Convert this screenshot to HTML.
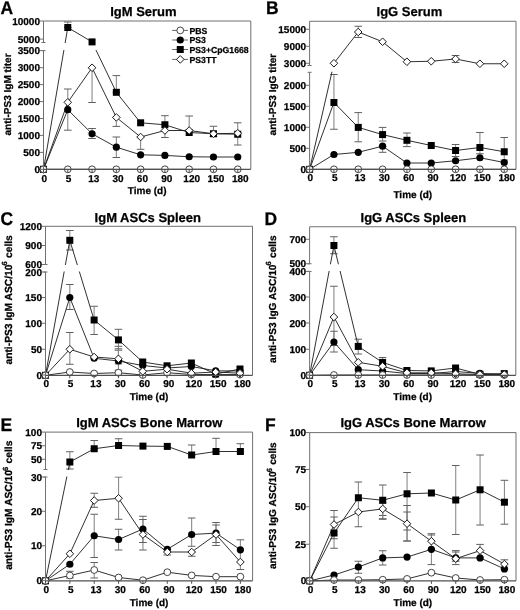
<!DOCTYPE html><html><head><meta charset="utf-8"><style>html,body{margin:0;padding:0;background:#fff;}svg{display:block;filter:blur(0.35px);}text{font-family:"Liberation Sans",sans-serif;font-weight:bold;fill:#000;text-rendering:geometricPrecision;stroke:#000;stroke-width:0.25px;}</style></head><body>
<svg width="520" height="610" viewBox="0 0 520 610">
<rect width="520" height="610" fill="#fff"/>
<defs><clipPath id="c0"><rect x="0" y="0" width="520" height="43"/><rect x="0" y="50.1" width="520" height="559.9"/></clipPath></defs>
<g clip-path="url(#c0)">
<path d="M67.78 89V130.2" stroke="#858585" stroke-width="1.05" fill="none"/>
<path d="M63.98 89H71.58M63.98 130.2H71.58" stroke="#606060" stroke-width="1" fill="none"/>
<path d="M67.78 22V27.5" stroke="#858585" stroke-width="1.05" fill="none"/>
<path d="M63.98 22H71.58M63.98 27.5H71.58" stroke="#606060" stroke-width="1" fill="none"/>
<path d="M92.06 67.75V102.5" stroke="#858585" stroke-width="1.05" fill="none"/>
<path d="M88.26 67.75H95.86M88.26 102.5H95.86" stroke="#606060" stroke-width="1" fill="none"/>
<path d="M92.06 128.5V138.5" stroke="#858585" stroke-width="1.05" fill="none"/>
<path d="M88.26 128.5H95.86M88.26 138.5H95.86" stroke="#606060" stroke-width="1" fill="none"/>
<path d="M116.34 75.6V92.3" stroke="#858585" stroke-width="1.05" fill="none"/>
<path d="M112.54 75.6H120.14M112.54 92.3H120.14" stroke="#606060" stroke-width="1" fill="none"/>
<path d="M116.34 117.4V126.4" stroke="#858585" stroke-width="1.05" fill="none"/>
<path d="M112.54 117.4H120.14M112.54 126.4H120.14" stroke="#606060" stroke-width="1" fill="none"/>
<path d="M116.34 137V157.5" stroke="#858585" stroke-width="1.05" fill="none"/>
<path d="M112.54 137H120.14M112.54 157.5H120.14" stroke="#606060" stroke-width="1" fill="none"/>
<path d="M140.62 137V149.3" stroke="#858585" stroke-width="1.05" fill="none"/>
<path d="M136.82 137H144.42M136.82 149.3H144.42" stroke="#606060" stroke-width="1" fill="none"/>
<path d="M164.9 115.7V137.5" stroke="#858585" stroke-width="1.05" fill="none"/>
<path d="M161.1 115.7H168.7M161.1 137.5H168.7" stroke="#606060" stroke-width="1" fill="none"/>
<path d="M189.18 116V130.5" stroke="#858585" stroke-width="1.05" fill="none"/>
<path d="M185.38 116H192.98M185.38 130.5H192.98" stroke="#606060" stroke-width="1" fill="none"/>
<path d="M213.46 126.25V136.5" stroke="#858585" stroke-width="1.05" fill="none"/>
<path d="M209.66 126.25H217.26M209.66 136.5H217.26" stroke="#606060" stroke-width="1" fill="none"/>
<path d="M237.74 122.8V145" stroke="#858585" stroke-width="1.05" fill="none"/>
<path d="M233.94 122.8H241.54M233.94 145H241.54" stroke="#606060" stroke-width="1" fill="none"/>
<path d="M43.5 169.3 L67.78 169.3 L92.06 169.3 L116.34 169.3 L140.62 169.3 L164.9 169.3 L189.18 169.3 L213.46 169.3 L237.74 169.3" stroke="#1a1a1a" stroke-width="0.9" fill="none"/>
<path d="M43.5 169.3 L67.78 102.3 L92.06 67.75 L116.34 117.4 L140.62 137 L164.9 130.5 L189.18 130.5 L213.46 133.75 L237.74 133.25" stroke="#1a1a1a" stroke-width="0.9" fill="none"/>
<path d="M43.5 169.3 L67.78 109.7 L92.06 133.75 L116.34 147.2 L140.62 154.8 L164.9 155.4 L189.18 156.75 L213.46 157 L237.74 157" stroke="#1a1a1a" stroke-width="0.9" fill="none"/>
<path d="M43.5 169.3 L67.78 27.5 L92.06 41.9 L116.34 92.3 L140.62 122.8 L164.9 124.75 L189.18 132.5 L213.46 133.75 L237.74 134.25" stroke="#1a1a1a" stroke-width="0.9" fill="none"/>
</g>
<rect x="64.28" y="24" width="7" height="7" fill="#000"/>
<rect x="88.56" y="38.4" width="7" height="7" fill="#000"/>
<rect x="112.84" y="88.8" width="7" height="7" fill="#000"/>
<rect x="137.12" y="119.3" width="7" height="7" fill="#000"/>
<rect x="161.4" y="121.25" width="7" height="7" fill="#000"/>
<rect x="185.68" y="129" width="7" height="7" fill="#000"/>
<rect x="209.96" y="130.25" width="7" height="7" fill="#000"/>
<rect x="234.24" y="130.75" width="7" height="7" fill="#000"/>
<circle cx="67.78" cy="109.7" r="3.6" fill="#000"/>
<circle cx="92.06" cy="133.75" r="3.6" fill="#000"/>
<circle cx="116.34" cy="147.2" r="3.6" fill="#000"/>
<circle cx="140.62" cy="154.8" r="3.6" fill="#000"/>
<circle cx="164.9" cy="155.4" r="3.6" fill="#000"/>
<circle cx="189.18" cy="156.75" r="3.6" fill="#000"/>
<circle cx="213.46" cy="157" r="3.6" fill="#000"/>
<circle cx="237.74" cy="157" r="3.6" fill="#000"/>
<circle cx="67.78" cy="169.3" r="3.4" fill="#fff" stroke="#3a3a3a" stroke-width="0.95"/>
<circle cx="92.06" cy="169.3" r="3.4" fill="#fff" stroke="#3a3a3a" stroke-width="0.95"/>
<circle cx="116.34" cy="169.3" r="3.4" fill="#fff" stroke="#3a3a3a" stroke-width="0.95"/>
<circle cx="140.62" cy="169.3" r="3.4" fill="#fff" stroke="#3a3a3a" stroke-width="0.95"/>
<circle cx="164.9" cy="169.3" r="3.4" fill="#fff" stroke="#3a3a3a" stroke-width="0.95"/>
<circle cx="189.18" cy="169.3" r="3.4" fill="#fff" stroke="#3a3a3a" stroke-width="0.95"/>
<circle cx="213.46" cy="169.3" r="3.4" fill="#fff" stroke="#3a3a3a" stroke-width="0.95"/>
<circle cx="237.74" cy="169.3" r="3.4" fill="#fff" stroke="#3a3a3a" stroke-width="0.95"/>
<path d="M67.78 98.5L71.58 102.3L67.78 106.1L63.98 102.3Z" fill="#fff" stroke="#1a1a1a" stroke-width="1"/>
<path d="M92.06 63.95L95.86 67.75L92.06 71.55L88.26 67.75Z" fill="#fff" stroke="#1a1a1a" stroke-width="1"/>
<path d="M116.34 113.6L120.14 117.4L116.34 121.2L112.54 117.4Z" fill="#fff" stroke="#1a1a1a" stroke-width="1"/>
<path d="M140.62 133.2L144.42 137L140.62 140.8L136.82 137Z" fill="#fff" stroke="#1a1a1a" stroke-width="1"/>
<path d="M164.9 126.7L168.7 130.5L164.9 134.3L161.1 130.5Z" fill="#fff" stroke="#1a1a1a" stroke-width="1"/>
<path d="M189.18 126.7L192.98 130.5L189.18 134.3L185.38 130.5Z" fill="#fff" stroke="#1a1a1a" stroke-width="1"/>
<path d="M213.46 129.95L217.26 133.75L213.46 137.55L209.66 133.75Z" fill="#fff" stroke="#1a1a1a" stroke-width="1"/>
<path d="M237.74 129.45L241.54 133.25L237.74 137.05L233.94 133.25Z" fill="#fff" stroke="#1a1a1a" stroke-width="1"/>
<rect x="40" y="165.8" width="7" height="7" fill="#000"/>
<circle cx="43.5" cy="169.3" r="3.6" fill="#000"/>
<path d="M43.5 165.5L47.3 169.3L43.5 173.1L39.7 169.3Z" fill="#fff" stroke="#1a1a1a" stroke-width="1"/>
<circle cx="43.5" cy="169.3" r="3.4" fill="#fff" stroke="#3a3a3a" stroke-width="0.95"/>
<path d="M43.5 21H250.8V169.3" stroke="#707070" stroke-width="1" fill="none"/>
<path d="M43.5 21V42.5" stroke="#707070" stroke-width="1" fill="none"/>
<path d="M43.5 50.6V169.3" stroke="#707070" stroke-width="1" fill="none"/>
<path d="M41.5 42.5H45.5" stroke="#707070" stroke-width="1"/>
<path d="M41.5 50.6H45.5" stroke="#707070" stroke-width="1"/>
<path d="M39.5 21H43.5" stroke="#707070" stroke-width="1"/>
<text x="40" y="24.55" font-size="10" text-anchor="end">10000</text>
<path d="M39.5 39.1H43.5" stroke="#707070" stroke-width="1"/>
<text x="40" y="42.65" font-size="10" text-anchor="end">5000</text>
<path d="M39.5 50.6H43.5" stroke="#707070" stroke-width="1"/>
<text x="40" y="54.15" font-size="10" text-anchor="end">3500</text>
<path d="M39.5 67.7H43.5" stroke="#707070" stroke-width="1"/>
<text x="40" y="71.25" font-size="10" text-anchor="end">3000</text>
<path d="M39.5 84.6H43.5" stroke="#707070" stroke-width="1"/>
<text x="40" y="88.15" font-size="10" text-anchor="end">2500</text>
<path d="M39.5 101.6H43.5" stroke="#707070" stroke-width="1"/>
<text x="40" y="105.15" font-size="10" text-anchor="end">2000</text>
<path d="M39.5 118.5H43.5" stroke="#707070" stroke-width="1"/>
<text x="40" y="122.05" font-size="10" text-anchor="end">1500</text>
<path d="M39.5 135.4H43.5" stroke="#707070" stroke-width="1"/>
<text x="40" y="138.95" font-size="10" text-anchor="end">1000</text>
<path d="M39.5 152.4H43.5" stroke="#707070" stroke-width="1"/>
<text x="40" y="155.95" font-size="10" text-anchor="end">500</text>
<path d="M39.5 169.3H43.5" stroke="#707070" stroke-width="1"/>
<text x="40" y="172.85" font-size="10" text-anchor="end">0</text>
<path d="M43.5 169.3H250.8" stroke="#505050" stroke-width="1.2" fill="none"/>
<path d="M43.5 169.3V172.3" stroke="#505050" stroke-width="1"/>
<text x="44.3" y="181.6" font-size="10" text-anchor="middle">0</text>
<path d="M67.78 169.3V172.3" stroke="#505050" stroke-width="1"/>
<text x="68.58" y="181.6" font-size="10" text-anchor="middle">5</text>
<path d="M92.06 169.3V172.3" stroke="#505050" stroke-width="1"/>
<text x="93.86" y="181.6" font-size="10" text-anchor="middle">13</text>
<path d="M116.34 169.3V172.3" stroke="#505050" stroke-width="1"/>
<text x="118.14" y="181.6" font-size="10" text-anchor="middle">30</text>
<path d="M140.62 169.3V172.3" stroke="#505050" stroke-width="1"/>
<text x="142.42" y="181.6" font-size="10" text-anchor="middle">60</text>
<path d="M164.9 169.3V172.3" stroke="#505050" stroke-width="1"/>
<text x="166.7" y="181.6" font-size="10" text-anchor="middle">90</text>
<path d="M189.18 169.3V172.3" stroke="#505050" stroke-width="1"/>
<text x="191.68" y="181.6" font-size="10" text-anchor="middle">120</text>
<path d="M213.46 169.3V172.3" stroke="#505050" stroke-width="1"/>
<text x="215.96" y="181.6" font-size="10" text-anchor="middle">150</text>
<path d="M237.74 169.3V172.3" stroke="#505050" stroke-width="1"/>
<text x="240.24" y="181.6" font-size="10" text-anchor="middle">180</text>
<text x="147.15" y="194.2" font-size="10" text-anchor="middle">Time (d)</text>
<text x="143.4" y="16.2" font-size="13" text-anchor="middle">IgM Serum</text>
<text transform="translate(0.5,14.2) scale(1,1.05)" x="0" y="0" font-size="17.5">A</text>
<text transform="translate(10.8,94.45) rotate(-90)" font-size="10.06" text-anchor="middle">anti-PS3 IgM titer</text>
<path d="M172.2 30.4H188" stroke="#555" stroke-width="0.9"/>
<circle cx="180.25" cy="30.4" r="3.4" fill="#fff" stroke="#3a3a3a" stroke-width="0.95"/>
<text x="189.5" y="33.5" font-size="8.7">PBS</text>
<path d="M172.2 40H188" stroke="#555" stroke-width="0.9"/>
<circle cx="180.25" cy="40" r="3.6" fill="#000"/>
<text x="189.5" y="43.1" font-size="8.7">PS3</text>
<path d="M172.2 49.5H188" stroke="#555" stroke-width="0.9"/>
<rect x="176.75" y="46" width="7" height="7" fill="#000"/>
<text x="189.5" y="52.6" font-size="8.7">PS3+CpG1668</text>
<path d="M172.2 59.4H188" stroke="#555" stroke-width="0.9"/>
<path d="M180.25 55.6L184.05 59.4L180.25 63.2L176.45 59.4Z" fill="#fff" stroke="#1a1a1a" stroke-width="1"/>
<text x="189.5" y="62.5" font-size="8.7">PS3TT</text>
<defs><clipPath id="c1"><rect x="0" y="0" width="520" height="66"/><rect x="0" y="71.8" width="520" height="538.2"/></clipPath></defs>
<g clip-path="url(#c1)">
<path d="M333.93 74.5V129.25" stroke="#858585" stroke-width="1.05" fill="none"/>
<path d="M330.13 74.5H337.73M330.13 129.25H337.73" stroke="#606060" stroke-width="1" fill="none"/>
<path d="M358.26 26.25V37.5" stroke="#858585" stroke-width="1.05" fill="none"/>
<path d="M354.46 26.25H362.06M354.46 37.5H362.06" stroke="#606060" stroke-width="1" fill="none"/>
<path d="M358.26 112.6V141.8" stroke="#858585" stroke-width="1.05" fill="none"/>
<path d="M354.46 112.6H362.06M354.46 141.8H362.06" stroke="#606060" stroke-width="1" fill="none"/>
<path d="M382.59 127.4V141" stroke="#858585" stroke-width="1.05" fill="none"/>
<path d="M378.79 127.4H386.39M378.79 141H386.39" stroke="#606060" stroke-width="1" fill="none"/>
<path d="M382.59 146.2V152.3" stroke="#858585" stroke-width="1.05" fill="none"/>
<path d="M378.79 146.2H386.39M378.79 152.3H386.39" stroke="#606060" stroke-width="1" fill="none"/>
<path d="M406.92 133V146.6" stroke="#858585" stroke-width="1.05" fill="none"/>
<path d="M403.12 133H410.72M403.12 146.6H410.72" stroke="#606060" stroke-width="1" fill="none"/>
<path d="M455.58 55.5V62.5" stroke="#858585" stroke-width="1.05" fill="none"/>
<path d="M451.78 55.5H459.38M451.78 62.5H459.38" stroke="#606060" stroke-width="1" fill="none"/>
<path d="M455.58 144.5V156.5" stroke="#858585" stroke-width="1.05" fill="none"/>
<path d="M451.78 144.5H459.38M451.78 156.5H459.38" stroke="#606060" stroke-width="1" fill="none"/>
<path d="M479.91 132.5V153.75" stroke="#858585" stroke-width="1.05" fill="none"/>
<path d="M476.11 132.5H483.71M476.11 153.75H483.71" stroke="#606060" stroke-width="1" fill="none"/>
<path d="M504.24 137.5V160" stroke="#858585" stroke-width="1.05" fill="none"/>
<path d="M500.44 137.5H508.04M500.44 160H508.04" stroke="#606060" stroke-width="1" fill="none"/>
<path d="M309.6 169.35 L333.93 169.3 L358.26 169.3 L382.59 169.3 L406.92 169.3 L431.25 169.3 L455.58 169.3 L479.91 169.3 L504.24 169.3" stroke="#1a1a1a" stroke-width="0.9" fill="none"/>
<path d="M309.6 169.35 L333.93 63.25 L358.26 32 L382.59 41.75 L406.92 61.75 L431.25 61.25 L455.58 59 L479.91 63.75 L504.24 63.75" stroke="#1a1a1a" stroke-width="0.9" fill="none"/>
<path d="M309.6 169.35 L333.93 154.5 L358.26 152.3 L382.59 146.2 L406.92 163 L431.25 163 L455.58 160.75 L479.91 157.75 L504.24 162.5" stroke="#1a1a1a" stroke-width="0.9" fill="none"/>
<path d="M309.6 169.35 L333.93 102.5 L358.26 127.4 L382.59 134.6 L406.92 140.3 L431.25 145.5 L455.58 150.5 L479.91 147.5 L504.24 151.75" stroke="#1a1a1a" stroke-width="0.9" fill="none"/>
</g>
<rect x="330.43" y="99" width="7" height="7" fill="#000"/>
<rect x="354.76" y="123.9" width="7" height="7" fill="#000"/>
<rect x="379.09" y="131.1" width="7" height="7" fill="#000"/>
<rect x="403.42" y="136.8" width="7" height="7" fill="#000"/>
<rect x="427.75" y="142" width="7" height="7" fill="#000"/>
<rect x="452.08" y="147" width="7" height="7" fill="#000"/>
<rect x="476.41" y="144" width="7" height="7" fill="#000"/>
<rect x="500.74" y="148.25" width="7" height="7" fill="#000"/>
<circle cx="333.93" cy="154.5" r="3.6" fill="#000"/>
<circle cx="358.26" cy="152.3" r="3.6" fill="#000"/>
<circle cx="382.59" cy="146.2" r="3.6" fill="#000"/>
<circle cx="406.92" cy="163" r="3.6" fill="#000"/>
<circle cx="431.25" cy="163" r="3.6" fill="#000"/>
<circle cx="455.58" cy="160.75" r="3.6" fill="#000"/>
<circle cx="479.91" cy="157.75" r="3.6" fill="#000"/>
<circle cx="504.24" cy="162.5" r="3.6" fill="#000"/>
<circle cx="333.93" cy="169.3" r="3.4" fill="#fff" stroke="#3a3a3a" stroke-width="0.95"/>
<circle cx="358.26" cy="169.3" r="3.4" fill="#fff" stroke="#3a3a3a" stroke-width="0.95"/>
<circle cx="382.59" cy="169.3" r="3.4" fill="#fff" stroke="#3a3a3a" stroke-width="0.95"/>
<circle cx="406.92" cy="169.3" r="3.4" fill="#fff" stroke="#3a3a3a" stroke-width="0.95"/>
<circle cx="431.25" cy="169.3" r="3.4" fill="#fff" stroke="#3a3a3a" stroke-width="0.95"/>
<circle cx="455.58" cy="169.3" r="3.4" fill="#fff" stroke="#3a3a3a" stroke-width="0.95"/>
<circle cx="479.91" cy="169.3" r="3.4" fill="#fff" stroke="#3a3a3a" stroke-width="0.95"/>
<circle cx="504.24" cy="169.3" r="3.4" fill="#fff" stroke="#3a3a3a" stroke-width="0.95"/>
<path d="M333.93 59.45L337.73 63.25L333.93 67.05L330.13 63.25Z" fill="#fff" stroke="#1a1a1a" stroke-width="1"/>
<path d="M358.26 28.2L362.06 32L358.26 35.8L354.46 32Z" fill="#fff" stroke="#1a1a1a" stroke-width="1"/>
<path d="M382.59 37.95L386.39 41.75L382.59 45.55L378.79 41.75Z" fill="#fff" stroke="#1a1a1a" stroke-width="1"/>
<path d="M406.92 57.95L410.72 61.75L406.92 65.55L403.12 61.75Z" fill="#fff" stroke="#1a1a1a" stroke-width="1"/>
<path d="M431.25 57.45L435.05 61.25L431.25 65.05L427.45 61.25Z" fill="#fff" stroke="#1a1a1a" stroke-width="1"/>
<path d="M455.58 55.2L459.38 59L455.58 62.8L451.78 59Z" fill="#fff" stroke="#1a1a1a" stroke-width="1"/>
<path d="M479.91 59.95L483.71 63.75L479.91 67.55L476.11 63.75Z" fill="#fff" stroke="#1a1a1a" stroke-width="1"/>
<path d="M504.24 59.95L508.04 63.75L504.24 67.55L500.44 63.75Z" fill="#fff" stroke="#1a1a1a" stroke-width="1"/>
<rect x="306.1" y="165.85" width="7" height="7" fill="#000"/>
<circle cx="309.6" cy="169.35" r="3.6" fill="#000"/>
<path d="M309.6 165.55L313.4 169.35L309.6 173.15L305.8 169.35Z" fill="#fff" stroke="#1a1a1a" stroke-width="1"/>
<circle cx="309.6" cy="169.35" r="3.4" fill="#fff" stroke="#3a3a3a" stroke-width="0.95"/>
<path d="M309.6 21.25H516V169.35" stroke="#707070" stroke-width="1" fill="none"/>
<path d="M309.6 21.25V65.5" stroke="#707070" stroke-width="1" fill="none"/>
<path d="M309.6 72.3V169.3" stroke="#707070" stroke-width="1" fill="none"/>
<path d="M307.6 65.5H311.6" stroke="#707070" stroke-width="1"/>
<path d="M307.6 72.3H311.6" stroke="#707070" stroke-width="1"/>
<path d="M305.6 29.25H309.6" stroke="#707070" stroke-width="1"/>
<text x="306.1" y="32.8" font-size="10" text-anchor="end">15000</text>
<path d="M305.6 46.25H309.6" stroke="#707070" stroke-width="1"/>
<text x="306.1" y="49.8" font-size="10" text-anchor="end">9000</text>
<path d="M305.6 63.25H309.6" stroke="#707070" stroke-width="1"/>
<text x="306.1" y="66.8" font-size="10" text-anchor="end">3000</text>
<path d="M305.6 85.3H309.6" stroke="#707070" stroke-width="1"/>
<text x="306.1" y="88.85" font-size="10" text-anchor="end">2000</text>
<path d="M305.6 106.3H309.6" stroke="#707070" stroke-width="1"/>
<text x="306.1" y="109.85" font-size="10" text-anchor="end">1500</text>
<path d="M305.6 127.3H309.6" stroke="#707070" stroke-width="1"/>
<text x="306.1" y="130.85" font-size="10" text-anchor="end">1000</text>
<path d="M305.6 148.3H309.6" stroke="#707070" stroke-width="1"/>
<text x="306.1" y="151.85" font-size="10" text-anchor="end">500</text>
<path d="M305.6 169.3H309.6" stroke="#707070" stroke-width="1"/>
<text x="306.1" y="172.85" font-size="10" text-anchor="end">0</text>
<path d="M309.6 169.35H516" stroke="#505050" stroke-width="1.2" fill="none"/>
<path d="M309.6 169.35V172.35" stroke="#505050" stroke-width="1"/>
<text x="310.4" y="181.3" font-size="10" text-anchor="middle">0</text>
<path d="M333.93 169.35V172.35" stroke="#505050" stroke-width="1"/>
<text x="334.73" y="181.3" font-size="10" text-anchor="middle">5</text>
<path d="M358.26 169.35V172.35" stroke="#505050" stroke-width="1"/>
<text x="360.06" y="181.3" font-size="10" text-anchor="middle">13</text>
<path d="M382.59 169.35V172.35" stroke="#505050" stroke-width="1"/>
<text x="384.39" y="181.3" font-size="10" text-anchor="middle">30</text>
<path d="M406.92 169.35V172.35" stroke="#505050" stroke-width="1"/>
<text x="408.72" y="181.3" font-size="10" text-anchor="middle">60</text>
<path d="M431.25 169.35V172.35" stroke="#505050" stroke-width="1"/>
<text x="433.05" y="181.3" font-size="10" text-anchor="middle">90</text>
<path d="M455.58 169.35V172.35" stroke="#505050" stroke-width="1"/>
<text x="458.08" y="181.3" font-size="10" text-anchor="middle">120</text>
<path d="M479.91 169.35V172.35" stroke="#505050" stroke-width="1"/>
<text x="482.41" y="181.3" font-size="10" text-anchor="middle">150</text>
<path d="M504.24 169.35V172.35" stroke="#505050" stroke-width="1"/>
<text x="506.74" y="181.3" font-size="10" text-anchor="middle">180</text>
<text x="412.8" y="198" font-size="10" text-anchor="middle">Time (d)</text>
<text x="409.4" y="16" font-size="13" text-anchor="middle">IgG Serum</text>
<text transform="translate(266,14.2) scale(1,1.05)" x="0" y="0" font-size="17.5">B</text>
<text transform="translate(276.3,94.6) rotate(-90)" font-size="10.08" text-anchor="middle">anti-PS3 IgG titer</text>
<defs><clipPath id="c2"><rect x="0" y="0" width="520" height="265"/><rect x="0" y="271.5" width="520" height="338.5"/></clipPath></defs>
<g clip-path="url(#c2)">
<path d="M69.81 230.5V250" stroke="#858585" stroke-width="1.05" fill="none"/>
<path d="M66.01 230.5H73.61M66.01 250H73.61" stroke="#606060" stroke-width="1" fill="none"/>
<path d="M69.81 284.5V309.5" stroke="#858585" stroke-width="1.05" fill="none"/>
<path d="M66.01 284.5H73.61M66.01 309.5H73.61" stroke="#606060" stroke-width="1" fill="none"/>
<path d="M69.81 332.5V364.25" stroke="#858585" stroke-width="1.05" fill="none"/>
<path d="M66.01 332.5H73.61M66.01 364.25H73.61" stroke="#606060" stroke-width="1" fill="none"/>
<path d="M94.12 306.25V334.5" stroke="#858585" stroke-width="1.05" fill="none"/>
<path d="M90.32 306.25H97.92M90.32 334.5H97.92" stroke="#606060" stroke-width="1" fill="none"/>
<path d="M118.43 329.3V350.2" stroke="#858585" stroke-width="1.05" fill="none"/>
<path d="M114.63 329.3H122.23M114.63 350.2H122.23" stroke="#606060" stroke-width="1" fill="none"/>
<path d="M118.43 346.3V363.9" stroke="#858585" stroke-width="1.05" fill="none"/>
<path d="M114.63 346.3H122.23M114.63 363.9H122.23" stroke="#606060" stroke-width="1" fill="none"/>
<path d="M118.43 348.8V370.2" stroke="#858585" stroke-width="1.05" fill="none"/>
<path d="M114.63 348.8H122.23M114.63 370.2H122.23" stroke="#606060" stroke-width="1" fill="none"/>
<path d="M45.5 375.3 L69.81 372 L94.12 373.5 L118.43 372.7 L142.74 375 L167.05 372.7 L191.36 374.5 L215.67 374.5 L239.98 374.5" stroke="#1a1a1a" stroke-width="0.9" fill="none"/>
<path d="M45.5 375.3 L69.81 349.25 L94.12 357 L118.43 358.8 L142.74 371.3 L167.05 369.2 L191.36 373.2 L215.67 372 L239.98 373.2" stroke="#1a1a1a" stroke-width="0.9" fill="none"/>
<path d="M45.5 375.3 L69.81 297.5 L94.12 358.25 L118.43 361 L142.74 365.5 L167.05 368 L191.36 366.5 L215.67 370.8 L239.98 371" stroke="#1a1a1a" stroke-width="0.9" fill="none"/>
<path d="M45.5 375.3 L69.81 240.3 L94.12 320 L118.43 339.9 L142.74 362 L167.05 365.8 L191.36 363 L215.67 374 L239.98 369" stroke="#1a1a1a" stroke-width="0.9" fill="none"/>
</g>
<circle cx="215.67" cy="374.5" r="3.4" fill="#fff" stroke="#3a3a3a" stroke-width="0.95"/>
<rect x="66.31" y="236.8" width="7" height="7" fill="#000"/>
<rect x="90.62" y="316.5" width="7" height="7" fill="#000"/>
<rect x="114.93" y="336.4" width="7" height="7" fill="#000"/>
<rect x="139.24" y="358.5" width="7" height="7" fill="#000"/>
<rect x="163.55" y="362.3" width="7" height="7" fill="#000"/>
<rect x="187.86" y="359.5" width="7" height="7" fill="#000"/>
<rect x="212.17" y="370.5" width="7" height="7" fill="#000"/>
<rect x="236.48" y="365.5" width="7" height="7" fill="#000"/>
<circle cx="69.81" cy="297.5" r="3.6" fill="#000"/>
<circle cx="94.12" cy="358.25" r="3.6" fill="#000"/>
<circle cx="118.43" cy="361" r="3.6" fill="#000"/>
<circle cx="142.74" cy="365.5" r="3.6" fill="#000"/>
<circle cx="167.05" cy="368" r="3.6" fill="#000"/>
<circle cx="191.36" cy="366.5" r="3.6" fill="#000"/>
<circle cx="215.67" cy="370.8" r="3.6" fill="#000"/>
<circle cx="239.98" cy="371" r="3.6" fill="#000"/>
<circle cx="69.81" cy="372" r="3.4" fill="#fff" stroke="#3a3a3a" stroke-width="0.95"/>
<circle cx="94.12" cy="373.5" r="3.4" fill="#fff" stroke="#3a3a3a" stroke-width="0.95"/>
<circle cx="118.43" cy="372.7" r="3.4" fill="#fff" stroke="#3a3a3a" stroke-width="0.95"/>
<circle cx="142.74" cy="375" r="3.4" fill="#fff" stroke="#3a3a3a" stroke-width="0.95"/>
<circle cx="167.05" cy="372.7" r="3.4" fill="#fff" stroke="#3a3a3a" stroke-width="0.95"/>
<circle cx="191.36" cy="374.5" r="3.4" fill="#fff" stroke="#3a3a3a" stroke-width="0.95"/>
<circle cx="239.98" cy="374.5" r="3.4" fill="#fff" stroke="#3a3a3a" stroke-width="0.95"/>
<path d="M69.81 345.45L73.61 349.25L69.81 353.05L66.01 349.25Z" fill="#fff" stroke="#1a1a1a" stroke-width="1"/>
<path d="M94.12 353.2L97.92 357L94.12 360.8L90.32 357Z" fill="#fff" stroke="#1a1a1a" stroke-width="1"/>
<path d="M118.43 355L122.23 358.8L118.43 362.6L114.63 358.8Z" fill="#fff" stroke="#1a1a1a" stroke-width="1"/>
<path d="M142.74 367.5L146.54 371.3L142.74 375.1L138.94 371.3Z" fill="#fff" stroke="#1a1a1a" stroke-width="1"/>
<path d="M167.05 365.4L170.85 369.2L167.05 373L163.25 369.2Z" fill="#fff" stroke="#1a1a1a" stroke-width="1"/>
<path d="M191.36 369.4L195.16 373.2L191.36 377L187.56 373.2Z" fill="#fff" stroke="#1a1a1a" stroke-width="1"/>
<path d="M215.67 368.2L219.47 372L215.67 375.8L211.87 372Z" fill="#fff" stroke="#1a1a1a" stroke-width="1"/>
<path d="M239.98 369.4L243.78 373.2L239.98 377L236.18 373.2Z" fill="#fff" stroke="#1a1a1a" stroke-width="1"/>
<rect x="42" y="371.8" width="7" height="7" fill="#000"/>
<circle cx="45.5" cy="375.3" r="3.6" fill="#000"/>
<path d="M45.5 371.5L49.3 375.3L45.5 379.1L41.7 375.3Z" fill="#fff" stroke="#1a1a1a" stroke-width="1"/>
<circle cx="45.5" cy="375.3" r="3.4" fill="#fff" stroke="#3a3a3a" stroke-width="0.95"/>
<path d="M45.5 226.3H252.5V375.3" stroke="#707070" stroke-width="1" fill="none"/>
<path d="M45.5 226.3V264.5" stroke="#707070" stroke-width="1" fill="none"/>
<path d="M45.5 272V375" stroke="#707070" stroke-width="1" fill="none"/>
<path d="M43.5 264.5H47.5" stroke="#707070" stroke-width="1"/>
<path d="M43.5 272H47.5" stroke="#707070" stroke-width="1"/>
<path d="M41.5 226.3H45.5" stroke="#707070" stroke-width="1"/>
<text x="42" y="229.85" font-size="10" text-anchor="end">1200</text>
<path d="M41.5 245.5H45.5" stroke="#707070" stroke-width="1"/>
<text x="42" y="249.05" font-size="10" text-anchor="end">900</text>
<path d="M41.5 264.5H45.5" stroke="#707070" stroke-width="1"/>
<text x="42" y="268.05" font-size="10" text-anchor="end">600</text>
<path d="M41.5 272H45.5" stroke="#707070" stroke-width="1"/>
<text x="42" y="275.55" font-size="10" text-anchor="end">200</text>
<path d="M41.5 297.5H45.5" stroke="#707070" stroke-width="1"/>
<text x="42" y="301.05" font-size="10" text-anchor="end">150</text>
<path d="M41.5 323.25H45.5" stroke="#707070" stroke-width="1"/>
<text x="42" y="326.8" font-size="10" text-anchor="end">100</text>
<path d="M41.5 349.25H45.5" stroke="#707070" stroke-width="1"/>
<text x="42" y="352.8" font-size="10" text-anchor="end">50</text>
<path d="M41.5 375H45.5" stroke="#707070" stroke-width="1"/>
<text x="42" y="378.55" font-size="10" text-anchor="end">0</text>
<path d="M45.5 375.3H252.5" stroke="#505050" stroke-width="1.2" fill="none"/>
<path d="M45.5 375.3V378.3" stroke="#505050" stroke-width="1"/>
<text x="46.3" y="387.3" font-size="10" text-anchor="middle">0</text>
<path d="M69.81 375.3V378.3" stroke="#505050" stroke-width="1"/>
<text x="70.61" y="387.3" font-size="10" text-anchor="middle">5</text>
<path d="M94.12 375.3V378.3" stroke="#505050" stroke-width="1"/>
<text x="95.92" y="387.3" font-size="10" text-anchor="middle">13</text>
<path d="M118.43 375.3V378.3" stroke="#505050" stroke-width="1"/>
<text x="120.23" y="387.3" font-size="10" text-anchor="middle">30</text>
<path d="M142.74 375.3V378.3" stroke="#505050" stroke-width="1"/>
<text x="144.54" y="387.3" font-size="10" text-anchor="middle">60</text>
<path d="M167.05 375.3V378.3" stroke="#505050" stroke-width="1"/>
<text x="168.85" y="387.3" font-size="10" text-anchor="middle">90</text>
<path d="M191.36 375.3V378.3" stroke="#505050" stroke-width="1"/>
<text x="193.86" y="387.3" font-size="10" text-anchor="middle">120</text>
<path d="M215.67 375.3V378.3" stroke="#505050" stroke-width="1"/>
<text x="218.17" y="387.3" font-size="10" text-anchor="middle">150</text>
<path d="M239.98 375.3V378.3" stroke="#505050" stroke-width="1"/>
<text x="242.48" y="387.3" font-size="10" text-anchor="middle">180</text>
<text x="149" y="400.3" font-size="10" text-anchor="middle">Time (d)</text>
<text x="147.8" y="221.7" font-size="13" text-anchor="middle">IgM ASCs Spleen</text>
<text transform="translate(0.5,224.5) scale(1,1.05)" x="0" y="0" font-size="17.5">C</text>
<text transform="translate(11.6,299.85) rotate(-90)" font-size="10.27" text-anchor="middle">anti-PS3 IgM ASC/10<tspan font-size="7.5" dx="-0.9" dy="-4.2">6</tspan><tspan dx="0.4" dy="4.2"> cells</tspan></text>
<defs><clipPath id="c3"><rect x="0" y="0" width="520" height="264.25"/><rect x="0" y="270.9" width="520" height="339.1"/></clipPath></defs>
<g clip-path="url(#c3)">
<path d="M333.93 236.75V253.75" stroke="#858585" stroke-width="1.05" fill="none"/>
<path d="M330.13 236.75H337.73M330.13 253.75H337.73" stroke="#606060" stroke-width="1" fill="none"/>
<path d="M333.93 286.25V345.5" stroke="#858585" stroke-width="1.05" fill="none"/>
<path d="M330.13 286.25H337.73M330.13 345.5H337.73" stroke="#606060" stroke-width="1" fill="none"/>
<path d="M333.93 331.25V352" stroke="#858585" stroke-width="1.05" fill="none"/>
<path d="M330.13 331.25H337.73M330.13 352H337.73" stroke="#606060" stroke-width="1" fill="none"/>
<path d="M358.26 339.2V354" stroke="#858585" stroke-width="1.05" fill="none"/>
<path d="M354.46 339.2H362.06M354.46 354H362.06" stroke="#606060" stroke-width="1" fill="none"/>
<path d="M382.59 357.5V366" stroke="#858585" stroke-width="1.05" fill="none"/>
<path d="M378.79 357.5H386.39M378.79 366H386.39" stroke="#606060" stroke-width="1" fill="none"/>
<path d="M309.6 375.3 L333.93 375 L358.26 375 L382.59 375 L406.92 375 L431.25 375 L455.58 375 L479.91 375 L504.24 375" stroke="#1a1a1a" stroke-width="0.9" fill="none"/>
<path d="M309.6 375.3 L333.93 317 L358.26 362.3 L382.59 366.3 L406.92 372.8 L431.25 372.9 L455.58 373.8 L479.91 374.5 L504.24 374.5" stroke="#1a1a1a" stroke-width="0.9" fill="none"/>
<path d="M309.6 375.3 L333.93 342 L358.26 369.7 L382.59 371 L406.92 373.5 L431.25 373.5 L455.58 371.5 L479.91 373.4 L504.24 374.5" stroke="#1a1a1a" stroke-width="0.9" fill="none"/>
<path d="M309.6 375.3 L333.93 245.5 L358.26 346.4 L382.59 362.4 L406.92 370.5 L431.25 370.9 L455.58 368 L479.91 374.3 L504.24 373.6" stroke="#1a1a1a" stroke-width="0.9" fill="none"/>
</g>
<rect x="330.43" y="242" width="7" height="7" fill="#000"/>
<rect x="354.76" y="342.9" width="7" height="7" fill="#000"/>
<rect x="379.09" y="358.9" width="7" height="7" fill="#000"/>
<rect x="403.42" y="367" width="7" height="7" fill="#000"/>
<rect x="427.75" y="367.4" width="7" height="7" fill="#000"/>
<rect x="452.08" y="364.5" width="7" height="7" fill="#000"/>
<rect x="476.41" y="370.8" width="7" height="7" fill="#000"/>
<rect x="500.74" y="370.1" width="7" height="7" fill="#000"/>
<circle cx="333.93" cy="342" r="3.6" fill="#000"/>
<circle cx="358.26" cy="369.7" r="3.6" fill="#000"/>
<circle cx="382.59" cy="371" r="3.6" fill="#000"/>
<circle cx="406.92" cy="373.5" r="3.6" fill="#000"/>
<circle cx="431.25" cy="373.5" r="3.6" fill="#000"/>
<circle cx="455.58" cy="371.5" r="3.6" fill="#000"/>
<circle cx="479.91" cy="373.4" r="3.6" fill="#000"/>
<circle cx="504.24" cy="374.5" r="3.6" fill="#000"/>
<circle cx="333.93" cy="375" r="3.4" fill="#fff" stroke="#3a3a3a" stroke-width="0.95"/>
<circle cx="358.26" cy="375" r="3.4" fill="#fff" stroke="#3a3a3a" stroke-width="0.95"/>
<circle cx="382.59" cy="375" r="3.4" fill="#fff" stroke="#3a3a3a" stroke-width="0.95"/>
<circle cx="406.92" cy="375" r="3.4" fill="#fff" stroke="#3a3a3a" stroke-width="0.95"/>
<circle cx="431.25" cy="375" r="3.4" fill="#fff" stroke="#3a3a3a" stroke-width="0.95"/>
<circle cx="455.58" cy="375" r="3.4" fill="#fff" stroke="#3a3a3a" stroke-width="0.95"/>
<circle cx="479.91" cy="375" r="3.4" fill="#fff" stroke="#3a3a3a" stroke-width="0.95"/>
<circle cx="504.24" cy="375" r="3.4" fill="#fff" stroke="#3a3a3a" stroke-width="0.95"/>
<path d="M333.93 313.2L337.73 317L333.93 320.8L330.13 317Z" fill="#fff" stroke="#1a1a1a" stroke-width="1"/>
<path d="M358.26 358.5L362.06 362.3L358.26 366.1L354.46 362.3Z" fill="#fff" stroke="#1a1a1a" stroke-width="1"/>
<path d="M382.59 362.5L386.39 366.3L382.59 370.1L378.79 366.3Z" fill="#fff" stroke="#1a1a1a" stroke-width="1"/>
<path d="M406.92 369L410.72 372.8L406.92 376.6L403.12 372.8Z" fill="#fff" stroke="#1a1a1a" stroke-width="1"/>
<path d="M431.25 369.1L435.05 372.9L431.25 376.7L427.45 372.9Z" fill="#fff" stroke="#1a1a1a" stroke-width="1"/>
<path d="M455.58 370L459.38 373.8L455.58 377.6L451.78 373.8Z" fill="#fff" stroke="#1a1a1a" stroke-width="1"/>
<path d="M479.91 370.7L483.71 374.5L479.91 378.3L476.11 374.5Z" fill="#fff" stroke="#1a1a1a" stroke-width="1"/>
<path d="M504.24 370.7L508.04 374.5L504.24 378.3L500.44 374.5Z" fill="#fff" stroke="#1a1a1a" stroke-width="1"/>
<rect x="306.1" y="371.8" width="7" height="7" fill="#000"/>
<circle cx="309.6" cy="375.3" r="3.6" fill="#000"/>
<path d="M309.6 371.5L313.4 375.3L309.6 379.1L305.8 375.3Z" fill="#fff" stroke="#1a1a1a" stroke-width="1"/>
<circle cx="309.6" cy="375.3" r="3.4" fill="#fff" stroke="#3a3a3a" stroke-width="0.95"/>
<path d="M309.6 226.75H515.8V375.3" stroke="#707070" stroke-width="1" fill="none"/>
<path d="M309.6 226.75V263.75" stroke="#707070" stroke-width="1" fill="none"/>
<path d="M309.6 271.4V375" stroke="#707070" stroke-width="1" fill="none"/>
<path d="M307.6 263.75H311.6" stroke="#707070" stroke-width="1"/>
<path d="M307.6 271.4H311.6" stroke="#707070" stroke-width="1"/>
<path d="M305.6 239.25H309.6" stroke="#707070" stroke-width="1"/>
<text x="306.1" y="242.8" font-size="10" text-anchor="end">700</text>
<path d="M305.6 263.75H309.6" stroke="#707070" stroke-width="1"/>
<text x="306.1" y="267.3" font-size="10" text-anchor="end">500</text>
<path d="M305.6 271.4H309.6" stroke="#707070" stroke-width="1"/>
<text x="306.1" y="274.95" font-size="10" text-anchor="end">400</text>
<path d="M305.6 297H309.6" stroke="#707070" stroke-width="1"/>
<text x="306.1" y="300.55" font-size="10" text-anchor="end">300</text>
<path d="M305.6 323H309.6" stroke="#707070" stroke-width="1"/>
<text x="306.1" y="326.55" font-size="10" text-anchor="end">200</text>
<path d="M305.6 349.25H309.6" stroke="#707070" stroke-width="1"/>
<text x="306.1" y="352.8" font-size="10" text-anchor="end">100</text>
<path d="M305.6 375H309.6" stroke="#707070" stroke-width="1"/>
<text x="306.1" y="378.55" font-size="10" text-anchor="end">0</text>
<path d="M309.6 375.3H515.8" stroke="#505050" stroke-width="1.2" fill="none"/>
<path d="M309.6 375.3V378.3" stroke="#505050" stroke-width="1"/>
<text x="310.4" y="387.3" font-size="10" text-anchor="middle">0</text>
<path d="M333.93 375.3V378.3" stroke="#505050" stroke-width="1"/>
<text x="334.73" y="387.3" font-size="10" text-anchor="middle">5</text>
<path d="M358.26 375.3V378.3" stroke="#505050" stroke-width="1"/>
<text x="360.06" y="387.3" font-size="10" text-anchor="middle">13</text>
<path d="M382.59 375.3V378.3" stroke="#505050" stroke-width="1"/>
<text x="384.39" y="387.3" font-size="10" text-anchor="middle">30</text>
<path d="M406.92 375.3V378.3" stroke="#505050" stroke-width="1"/>
<text x="408.72" y="387.3" font-size="10" text-anchor="middle">60</text>
<path d="M431.25 375.3V378.3" stroke="#505050" stroke-width="1"/>
<text x="433.05" y="387.3" font-size="10" text-anchor="middle">90</text>
<path d="M455.58 375.3V378.3" stroke="#505050" stroke-width="1"/>
<text x="458.08" y="387.3" font-size="10" text-anchor="middle">120</text>
<path d="M479.91 375.3V378.3" stroke="#505050" stroke-width="1"/>
<text x="482.41" y="387.3" font-size="10" text-anchor="middle">150</text>
<path d="M504.24 375.3V378.3" stroke="#505050" stroke-width="1"/>
<text x="506.74" y="387.3" font-size="10" text-anchor="middle">180</text>
<text x="412.7" y="400.3" font-size="10" text-anchor="middle">Time (d)</text>
<text x="413.4" y="221.7" font-size="13" text-anchor="middle">IgG ASCs Spleen</text>
<text transform="translate(264.5,225) scale(1,1.05)" x="0" y="0" font-size="17.5">D</text>
<text transform="translate(275.6,299.15) rotate(-90)" font-size="10.16" text-anchor="middle">anti-PS3 IgG ASC/10<tspan font-size="7.5" dx="-0.9" dy="-4.2">6</tspan><tspan dx="0.4" dy="4.2"> cells</tspan></text>
<defs><clipPath id="c4"><rect x="0" y="0" width="520" height="470"/><rect x="0" y="476.5" width="520" height="133.5"/></clipPath></defs>
<g clip-path="url(#c4)">
<path d="M69.86 451.75V469" stroke="#858585" stroke-width="1.05" fill="none"/>
<path d="M66.06 451.75H73.66M66.06 469H73.66" stroke="#606060" stroke-width="1" fill="none"/>
<path d="M94.22 440.5V448.75" stroke="#858585" stroke-width="1.05" fill="none"/>
<path d="M90.42 440.5H98.02M90.42 448.75H98.02" stroke="#606060" stroke-width="1" fill="none"/>
<path d="M118.58 438.75V445.5" stroke="#858585" stroke-width="1.05" fill="none"/>
<path d="M114.78 438.75H122.38M114.78 445.5H122.38" stroke="#606060" stroke-width="1" fill="none"/>
<path d="M191.66 445V455" stroke="#858585" stroke-width="1.05" fill="none"/>
<path d="M187.86 445H195.46M187.86 455H195.46" stroke="#606060" stroke-width="1" fill="none"/>
<path d="M216.02 438.3V451.5" stroke="#858585" stroke-width="1.05" fill="none"/>
<path d="M212.22 438.3H219.82M212.22 451.5H219.82" stroke="#606060" stroke-width="1" fill="none"/>
<path d="M240.38 443.7V451.5" stroke="#858585" stroke-width="1.05" fill="none"/>
<path d="M236.58 443.7H244.18M236.58 451.5H244.18" stroke="#606060" stroke-width="1" fill="none"/>
<path d="M94.22 493.25V507.3" stroke="#858585" stroke-width="1.05" fill="none"/>
<path d="M90.42 493.25H98.02M90.42 507.3H98.02" stroke="#606060" stroke-width="1" fill="none"/>
<path d="M94.22 514.25V557.5" stroke="#858585" stroke-width="1.05" fill="none"/>
<path d="M90.42 514.25H98.02M90.42 557.5H98.02" stroke="#606060" stroke-width="1" fill="none"/>
<path d="M94.22 562.5V578" stroke="#858585" stroke-width="1.05" fill="none"/>
<path d="M90.42 562.5H98.02M90.42 578H98.02" stroke="#606060" stroke-width="1" fill="none"/>
<path d="M118.58 477V519.25" stroke="#858585" stroke-width="1.05" fill="none"/>
<path d="M114.78 477H122.38M114.78 519.25H122.38" stroke="#606060" stroke-width="1" fill="none"/>
<path d="M118.58 529.25V550" stroke="#858585" stroke-width="1.05" fill="none"/>
<path d="M114.78 529.25H122.38M114.78 550H122.38" stroke="#606060" stroke-width="1" fill="none"/>
<path d="M142.94 516.25V550" stroke="#858585" stroke-width="1.05" fill="none"/>
<path d="M139.14 516.25H146.74M139.14 550H146.74" stroke="#606060" stroke-width="1" fill="none"/>
<path d="M142.94 519.5V542.5" stroke="#858585" stroke-width="1.05" fill="none"/>
<path d="M139.14 519.5H146.74M139.14 542.5H146.74" stroke="#606060" stroke-width="1" fill="none"/>
<path d="M167.3 549.3V555" stroke="#858585" stroke-width="1.05" fill="none"/>
<path d="M163.5 549.3H171.1M163.5 555H171.1" stroke="#606060" stroke-width="1" fill="none"/>
<path d="M191.66 518V546.25" stroke="#858585" stroke-width="1.05" fill="none"/>
<path d="M187.86 518H195.46M187.86 546.25H195.46" stroke="#606060" stroke-width="1" fill="none"/>
<path d="M191.66 552V556.25" stroke="#858585" stroke-width="1.05" fill="none"/>
<path d="M187.86 552H195.46M187.86 556.25H195.46" stroke="#606060" stroke-width="1" fill="none"/>
<path d="M216.02 522.5V545.5" stroke="#858585" stroke-width="1.05" fill="none"/>
<path d="M212.22 522.5H219.82M212.22 545.5H219.82" stroke="#606060" stroke-width="1" fill="none"/>
<path d="M216.02 525V542.5" stroke="#858585" stroke-width="1.05" fill="none"/>
<path d="M212.22 525H219.82M212.22 542.5H219.82" stroke="#606060" stroke-width="1" fill="none"/>
<path d="M240.38 539.8V569.5" stroke="#858585" stroke-width="1.05" fill="none"/>
<path d="M236.58 539.8H244.18M236.58 569.5H244.18" stroke="#606060" stroke-width="1" fill="none"/>
<path d="M69.86 571.25V578" stroke="#858585" stroke-width="1.05" fill="none"/>
<path d="M66.06 571.25H73.66M66.06 578H73.66" stroke="#606060" stroke-width="1" fill="none"/>
<path d="M45.5 580.8 L69.86 575.5 L94.22 570 L118.58 577.5 L142.94 580.2 L167.3 572.2 L191.66 575.4 L216.02 576.7 L240.38 576.7" stroke="#1a1a1a" stroke-width="0.9" fill="none"/>
<path d="M45.5 580.8 L69.86 553.75 L94.22 500.5 L118.58 498.25 L142.94 534.5 L167.3 552 L191.66 552 L216.02 534.5 L240.38 562" stroke="#1a1a1a" stroke-width="0.9" fill="none"/>
<path d="M45.5 580.8 L69.86 564.25 L94.22 535.75 L118.58 539.5 L142.94 529 L167.3 549.3 L191.66 534.5 L216.02 533.1 L240.38 549.8" stroke="#1a1a1a" stroke-width="0.9" fill="none"/>
<path d="M45.5 580.8 L69.86 462 L94.22 448.75 L118.58 445.5 L142.94 446.1 L167.3 446.4 L191.66 455 L216.02 451.5 L240.38 451.5" stroke="#1a1a1a" stroke-width="0.9" fill="none"/>
</g>
<rect x="66.36" y="458.5" width="7" height="7" fill="#000"/>
<rect x="90.72" y="445.25" width="7" height="7" fill="#000"/>
<rect x="115.08" y="442" width="7" height="7" fill="#000"/>
<rect x="139.44" y="442.6" width="7" height="7" fill="#000"/>
<rect x="163.8" y="442.9" width="7" height="7" fill="#000"/>
<rect x="188.16" y="451.5" width="7" height="7" fill="#000"/>
<rect x="212.52" y="448" width="7" height="7" fill="#000"/>
<rect x="236.88" y="448" width="7" height="7" fill="#000"/>
<circle cx="69.86" cy="564.25" r="3.6" fill="#000"/>
<circle cx="94.22" cy="535.75" r="3.6" fill="#000"/>
<circle cx="118.58" cy="539.5" r="3.6" fill="#000"/>
<circle cx="142.94" cy="529" r="3.6" fill="#000"/>
<circle cx="167.3" cy="549.3" r="3.6" fill="#000"/>
<circle cx="191.66" cy="534.5" r="3.6" fill="#000"/>
<circle cx="216.02" cy="533.1" r="3.6" fill="#000"/>
<circle cx="240.38" cy="549.8" r="3.6" fill="#000"/>
<circle cx="69.86" cy="575.5" r="3.4" fill="#fff" stroke="#3a3a3a" stroke-width="0.95"/>
<circle cx="94.22" cy="570" r="3.4" fill="#fff" stroke="#3a3a3a" stroke-width="0.95"/>
<circle cx="118.58" cy="577.5" r="3.4" fill="#fff" stroke="#3a3a3a" stroke-width="0.95"/>
<circle cx="142.94" cy="580.2" r="3.4" fill="#fff" stroke="#3a3a3a" stroke-width="0.95"/>
<circle cx="167.3" cy="572.2" r="3.4" fill="#fff" stroke="#3a3a3a" stroke-width="0.95"/>
<circle cx="191.66" cy="575.4" r="3.4" fill="#fff" stroke="#3a3a3a" stroke-width="0.95"/>
<circle cx="216.02" cy="576.7" r="3.4" fill="#fff" stroke="#3a3a3a" stroke-width="0.95"/>
<circle cx="240.38" cy="576.7" r="3.4" fill="#fff" stroke="#3a3a3a" stroke-width="0.95"/>
<path d="M69.86 549.95L73.66 553.75L69.86 557.55L66.06 553.75Z" fill="#fff" stroke="#1a1a1a" stroke-width="1"/>
<path d="M94.22 496.7L98.02 500.5L94.22 504.3L90.42 500.5Z" fill="#fff" stroke="#1a1a1a" stroke-width="1"/>
<path d="M118.58 494.45L122.38 498.25L118.58 502.05L114.78 498.25Z" fill="#fff" stroke="#1a1a1a" stroke-width="1"/>
<path d="M142.94 530.7L146.74 534.5L142.94 538.3L139.14 534.5Z" fill="#fff" stroke="#1a1a1a" stroke-width="1"/>
<path d="M167.3 548.2L171.1 552L167.3 555.8L163.5 552Z" fill="#fff" stroke="#1a1a1a" stroke-width="1"/>
<path d="M191.66 548.2L195.46 552L191.66 555.8L187.86 552Z" fill="#fff" stroke="#1a1a1a" stroke-width="1"/>
<path d="M216.02 530.7L219.82 534.5L216.02 538.3L212.22 534.5Z" fill="#fff" stroke="#1a1a1a" stroke-width="1"/>
<path d="M240.38 558.2L244.18 562L240.38 565.8L236.58 562Z" fill="#fff" stroke="#1a1a1a" stroke-width="1"/>
<rect x="42" y="577.3" width="7" height="7" fill="#000"/>
<circle cx="45.5" cy="580.8" r="3.6" fill="#000"/>
<path d="M45.5 577L49.3 580.8L45.5 584.6L41.7 580.8Z" fill="#fff" stroke="#1a1a1a" stroke-width="1"/>
<circle cx="45.5" cy="580.8" r="3.4" fill="#fff" stroke="#3a3a3a" stroke-width="0.95"/>
<path d="M45.5 432.1H252.6V580.8" stroke="#707070" stroke-width="1" fill="none"/>
<path d="M45.5 432.1V469.5" stroke="#707070" stroke-width="1" fill="none"/>
<path d="M45.5 477V580.6" stroke="#707070" stroke-width="1" fill="none"/>
<path d="M43.5 469.5H47.5" stroke="#707070" stroke-width="1"/>
<path d="M43.5 477H47.5" stroke="#707070" stroke-width="1"/>
<path d="M41.5 432.1H45.5" stroke="#707070" stroke-width="1"/>
<text x="42" y="435.65" font-size="10" text-anchor="end">100</text>
<path d="M41.5 445.75H45.5" stroke="#707070" stroke-width="1"/>
<text x="42" y="449.3" font-size="10" text-anchor="end">75</text>
<path d="M41.5 459.25H45.5" stroke="#707070" stroke-width="1"/>
<text x="42" y="462.8" font-size="10" text-anchor="end">50</text>
<path d="M41.5 477H45.5" stroke="#707070" stroke-width="1"/>
<text x="42" y="480.55" font-size="10" text-anchor="end">30</text>
<path d="M41.5 511.25H45.5" stroke="#707070" stroke-width="1"/>
<text x="42" y="514.8" font-size="10" text-anchor="end">20</text>
<path d="M41.5 545.75H45.5" stroke="#707070" stroke-width="1"/>
<text x="42" y="549.3" font-size="10" text-anchor="end">10</text>
<path d="M41.5 580.6H45.5" stroke="#707070" stroke-width="1"/>
<text x="42" y="584.15" font-size="10" text-anchor="end">0</text>
<path d="M45.5 580.8H252.6" stroke="#505050" stroke-width="1.2" fill="none"/>
<path d="M45.5 580.8V583.8" stroke="#505050" stroke-width="1"/>
<text x="46.3" y="593.4" font-size="10" text-anchor="middle">0</text>
<path d="M69.86 580.8V583.8" stroke="#505050" stroke-width="1"/>
<text x="70.66" y="593.4" font-size="10" text-anchor="middle">5</text>
<path d="M94.22 580.8V583.8" stroke="#505050" stroke-width="1"/>
<text x="96.02" y="593.4" font-size="10" text-anchor="middle">13</text>
<path d="M118.58 580.8V583.8" stroke="#505050" stroke-width="1"/>
<text x="120.38" y="593.4" font-size="10" text-anchor="middle">30</text>
<path d="M142.94 580.8V583.8" stroke="#505050" stroke-width="1"/>
<text x="144.74" y="593.4" font-size="10" text-anchor="middle">60</text>
<path d="M167.3 580.8V583.8" stroke="#505050" stroke-width="1"/>
<text x="169.1" y="593.4" font-size="10" text-anchor="middle">90</text>
<path d="M191.66 580.8V583.8" stroke="#505050" stroke-width="1"/>
<text x="194.16" y="593.4" font-size="10" text-anchor="middle">120</text>
<path d="M216.02 580.8V583.8" stroke="#505050" stroke-width="1"/>
<text x="218.52" y="593.4" font-size="10" text-anchor="middle">150</text>
<path d="M240.38 580.8V583.8" stroke="#505050" stroke-width="1"/>
<text x="242.88" y="593.4" font-size="10" text-anchor="middle">180</text>
<text x="149.05" y="605.5" font-size="10" text-anchor="middle">Time (d)</text>
<text x="149.3" y="426.6" font-size="13" text-anchor="middle">IgM ASCs Bone Marrow</text>
<text transform="translate(0.5,430.8) scale(1,1.05)" x="0" y="0" font-size="17.5">E</text>
<text transform="translate(11.8,505.25) rotate(-90)" font-size="10.26" text-anchor="middle">anti-PS3 IgM ASC/10<tspan font-size="7.5" dx="-0.9" dy="-4.2">6</tspan><tspan dx="0.4" dy="4.2"> cells</tspan></text>
<g>
<path d="M334.04 510.5V548.25" stroke="#858585" stroke-width="1.05" fill="none"/>
<path d="M330.24 510.5H337.84M330.24 548.25H337.84" stroke="#606060" stroke-width="1" fill="none"/>
<path d="M358.38 482V526.75" stroke="#858585" stroke-width="1.05" fill="none"/>
<path d="M354.58 482H362.18M354.58 526.75H362.18" stroke="#606060" stroke-width="1" fill="none"/>
<path d="M358.38 561.25V573.25" stroke="#858585" stroke-width="1.05" fill="none"/>
<path d="M354.58 561.25H362.18M354.58 573.25H362.18" stroke="#606060" stroke-width="1" fill="none"/>
<path d="M382.72 485V519.25" stroke="#858585" stroke-width="1.05" fill="none"/>
<path d="M378.92 485H386.52M378.92 519.25H386.52" stroke="#606060" stroke-width="1" fill="none"/>
<path d="M382.72 550.75V565" stroke="#858585" stroke-width="1.05" fill="none"/>
<path d="M378.92 550.75H386.52M378.92 565H386.52" stroke="#606060" stroke-width="1" fill="none"/>
<path d="M407.06 472.5V541" stroke="#858585" stroke-width="1.05" fill="none"/>
<path d="M403.26 472.5H410.86M403.26 541H410.86" stroke="#606060" stroke-width="1" fill="none"/>
<path d="M431.4 533.7V564.6" stroke="#858585" stroke-width="1.05" fill="none"/>
<path d="M427.6 533.7H435.2M427.6 564.6H435.2" stroke="#606060" stroke-width="1" fill="none"/>
<path d="M431.4 535V549.3" stroke="#858585" stroke-width="1.05" fill="none"/>
<path d="M427.6 535H435.2M427.6 549.3H435.2" stroke="#606060" stroke-width="1" fill="none"/>
<path d="M455.74 465.5V534.5" stroke="#858585" stroke-width="1.05" fill="none"/>
<path d="M451.94 465.5H459.54M451.94 534.5H459.54" stroke="#606060" stroke-width="1" fill="none"/>
<path d="M455.74 550.6V564.6" stroke="#858585" stroke-width="1.05" fill="none"/>
<path d="M451.94 550.6H459.54M451.94 564.6H459.54" stroke="#606060" stroke-width="1" fill="none"/>
<path d="M455.74 552V561.25" stroke="#858585" stroke-width="1.05" fill="none"/>
<path d="M451.94 552H459.54M451.94 561.25H459.54" stroke="#606060" stroke-width="1" fill="none"/>
<path d="M480.08 455V525" stroke="#858585" stroke-width="1.05" fill="none"/>
<path d="M476.28 455H483.88M476.28 525H483.88" stroke="#606060" stroke-width="1" fill="none"/>
<path d="M480.08 544.4V558" stroke="#858585" stroke-width="1.05" fill="none"/>
<path d="M476.28 544.4H483.88M476.28 558H483.88" stroke="#606060" stroke-width="1" fill="none"/>
<path d="M504.42 480.3V524.2" stroke="#858585" stroke-width="1.05" fill="none"/>
<path d="M500.62 480.3H508.22M500.62 524.2H508.22" stroke="#606060" stroke-width="1" fill="none"/>
<path d="M504.42 559.8V568.9" stroke="#858585" stroke-width="1.05" fill="none"/>
<path d="M500.62 559.8H508.22M500.62 568.9H508.22" stroke="#606060" stroke-width="1" fill="none"/>
<path d="M407.06 505.5V541" stroke="#858585" stroke-width="1.05" fill="none"/>
<path d="M403.26 505.5H410.86M403.26 541H410.86" stroke="#606060" stroke-width="1" fill="none"/>
<path d="M407.06 512V530" stroke="#858585" stroke-width="1.05" fill="none"/>
<path d="M403.26 512H410.86M403.26 530H410.86" stroke="#606060" stroke-width="1" fill="none"/>
<path d="M334.04 517V538.75" stroke="#858585" stroke-width="1.05" fill="none"/>
<path d="M330.24 517H337.84M330.24 538.75H337.84" stroke="#606060" stroke-width="1" fill="none"/>
<path d="M382.72 503V515.5" stroke="#858585" stroke-width="1.05" fill="none"/>
<path d="M378.92 503H386.52M378.92 515.5H386.52" stroke="#606060" stroke-width="1" fill="none"/>
<path d="M382.72 508.9V518.75" stroke="#858585" stroke-width="1.05" fill="none"/>
<path d="M378.92 508.9H386.52M378.92 518.75H386.52" stroke="#606060" stroke-width="1" fill="none"/>
<path d="M309.7 580.9 L334.04 580 L358.38 580 L382.72 579.7 L407.06 578.9 L431.4 572.7 L455.74 578 L480.08 580 L504.42 579.7" stroke="#1a1a1a" stroke-width="0.9" fill="none"/>
<path d="M309.7 580.9 L334.04 524.5 L358.38 512 L382.72 508.9 L407.06 523.7 L431.4 541.2 L455.74 558.7 L480.08 550.6 L504.42 564.1" stroke="#1a1a1a" stroke-width="0.9" fill="none"/>
<path d="M309.7 580.9 L334.04 575 L358.38 567 L382.72 557.9 L407.06 557.1 L431.4 549.3 L455.74 557.9 L480.08 557.9 L504.42 568.9" stroke="#1a1a1a" stroke-width="0.9" fill="none"/>
<path d="M309.7 580.9 L334.04 533 L358.38 497.75 L382.72 500.25 L407.06 493.8 L431.4 493 L455.74 500 L480.08 489.8 L504.42 502.2" stroke="#1a1a1a" stroke-width="0.9" fill="none"/>
</g>
<rect x="330.54" y="529.5" width="7" height="7" fill="#000"/>
<rect x="354.88" y="494.25" width="7" height="7" fill="#000"/>
<rect x="379.22" y="496.75" width="7" height="7" fill="#000"/>
<rect x="403.56" y="490.3" width="7" height="7" fill="#000"/>
<rect x="427.9" y="489.5" width="7" height="7" fill="#000"/>
<rect x="452.24" y="496.5" width="7" height="7" fill="#000"/>
<rect x="476.58" y="486.3" width="7" height="7" fill="#000"/>
<rect x="500.92" y="498.7" width="7" height="7" fill="#000"/>
<circle cx="334.04" cy="575" r="3.6" fill="#000"/>
<circle cx="358.38" cy="567" r="3.6" fill="#000"/>
<circle cx="382.72" cy="557.9" r="3.6" fill="#000"/>
<circle cx="407.06" cy="557.1" r="3.6" fill="#000"/>
<circle cx="431.4" cy="549.3" r="3.6" fill="#000"/>
<circle cx="455.74" cy="557.9" r="3.6" fill="#000"/>
<circle cx="480.08" cy="557.9" r="3.6" fill="#000"/>
<circle cx="504.42" cy="568.9" r="3.6" fill="#000"/>
<circle cx="334.04" cy="580" r="3.4" fill="#fff" stroke="#3a3a3a" stroke-width="0.95"/>
<circle cx="358.38" cy="580" r="3.4" fill="#fff" stroke="#3a3a3a" stroke-width="0.95"/>
<circle cx="382.72" cy="579.7" r="3.4" fill="#fff" stroke="#3a3a3a" stroke-width="0.95"/>
<circle cx="407.06" cy="578.9" r="3.4" fill="#fff" stroke="#3a3a3a" stroke-width="0.95"/>
<circle cx="431.4" cy="572.7" r="3.4" fill="#fff" stroke="#3a3a3a" stroke-width="0.95"/>
<circle cx="455.74" cy="578" r="3.4" fill="#fff" stroke="#3a3a3a" stroke-width="0.95"/>
<circle cx="480.08" cy="580" r="3.4" fill="#fff" stroke="#3a3a3a" stroke-width="0.95"/>
<circle cx="504.42" cy="579.7" r="3.4" fill="#fff" stroke="#3a3a3a" stroke-width="0.95"/>
<path d="M334.04 520.7L337.84 524.5L334.04 528.3L330.24 524.5Z" fill="#fff" stroke="#1a1a1a" stroke-width="1"/>
<path d="M358.38 508.2L362.18 512L358.38 515.8L354.58 512Z" fill="#fff" stroke="#1a1a1a" stroke-width="1"/>
<path d="M382.72 505.1L386.52 508.9L382.72 512.7L378.92 508.9Z" fill="#fff" stroke="#1a1a1a" stroke-width="1"/>
<path d="M407.06 519.9L410.86 523.7L407.06 527.5L403.26 523.7Z" fill="#fff" stroke="#1a1a1a" stroke-width="1"/>
<path d="M431.4 537.4L435.2 541.2L431.4 545L427.6 541.2Z" fill="#fff" stroke="#1a1a1a" stroke-width="1"/>
<path d="M455.74 554.9L459.54 558.7L455.74 562.5L451.94 558.7Z" fill="#fff" stroke="#1a1a1a" stroke-width="1"/>
<path d="M480.08 546.8L483.88 550.6L480.08 554.4L476.28 550.6Z" fill="#fff" stroke="#1a1a1a" stroke-width="1"/>
<path d="M504.42 560.3L508.22 564.1L504.42 567.9L500.62 564.1Z" fill="#fff" stroke="#1a1a1a" stroke-width="1"/>
<rect x="306.2" y="577.4" width="7" height="7" fill="#000"/>
<circle cx="309.7" cy="580.9" r="3.6" fill="#000"/>
<path d="M309.7 577.1L313.5 580.9L309.7 584.7L305.9 580.9Z" fill="#fff" stroke="#1a1a1a" stroke-width="1"/>
<circle cx="309.7" cy="580.9" r="3.4" fill="#fff" stroke="#3a3a3a" stroke-width="0.95"/>
<path d="M309.7 432.6H516V580.9" stroke="#707070" stroke-width="1" fill="none"/>
<path d="M309.7 432.6V580.7" stroke="#707070" stroke-width="1" fill="none"/>
<path d="M305.7 432.6H309.7" stroke="#707070" stroke-width="1"/>
<text x="306.2" y="436.15" font-size="10" text-anchor="end">100</text>
<path d="M305.7 469.5H309.7" stroke="#707070" stroke-width="1"/>
<text x="306.2" y="473.05" font-size="10" text-anchor="end">75</text>
<path d="M305.7 506.75H309.7" stroke="#707070" stroke-width="1"/>
<text x="306.2" y="510.3" font-size="10" text-anchor="end">50</text>
<path d="M305.7 544.25H309.7" stroke="#707070" stroke-width="1"/>
<text x="306.2" y="547.8" font-size="10" text-anchor="end">25</text>
<path d="M305.7 580.7H309.7" stroke="#707070" stroke-width="1"/>
<text x="306.2" y="584.25" font-size="10" text-anchor="end">0</text>
<path d="M309.7 580.9H516" stroke="#505050" stroke-width="1.2" fill="none"/>
<path d="M309.7 580.9V583.9" stroke="#505050" stroke-width="1"/>
<text x="310.5" y="593.4" font-size="10" text-anchor="middle">0</text>
<path d="M334.04 580.9V583.9" stroke="#505050" stroke-width="1"/>
<text x="334.84" y="593.4" font-size="10" text-anchor="middle">5</text>
<path d="M358.38 580.9V583.9" stroke="#505050" stroke-width="1"/>
<text x="360.18" y="593.4" font-size="10" text-anchor="middle">13</text>
<path d="M382.72 580.9V583.9" stroke="#505050" stroke-width="1"/>
<text x="384.52" y="593.4" font-size="10" text-anchor="middle">30</text>
<path d="M407.06 580.9V583.9" stroke="#505050" stroke-width="1"/>
<text x="408.86" y="593.4" font-size="10" text-anchor="middle">60</text>
<path d="M431.4 580.9V583.9" stroke="#505050" stroke-width="1"/>
<text x="433.2" y="593.4" font-size="10" text-anchor="middle">90</text>
<path d="M455.74 580.9V583.9" stroke="#505050" stroke-width="1"/>
<text x="458.24" y="593.4" font-size="10" text-anchor="middle">120</text>
<path d="M480.08 580.9V583.9" stroke="#505050" stroke-width="1"/>
<text x="482.58" y="593.4" font-size="10" text-anchor="middle">150</text>
<path d="M504.42 580.9V583.9" stroke="#505050" stroke-width="1"/>
<text x="506.92" y="593.4" font-size="10" text-anchor="middle">180</text>
<text x="412.85" y="606" font-size="10" text-anchor="middle">Time (d)</text>
<text x="413.1" y="427.3" font-size="13" text-anchor="middle">IgG ASCs Bone Marrow</text>
<text transform="translate(265,431.2) scale(1,1.05)" x="0" y="0" font-size="17.5">F</text>
<text transform="translate(276.3,505.7) rotate(-90)" font-size="10.11" text-anchor="middle">anti-PS3 IgG ASC/10<tspan font-size="7.5" dx="-0.9" dy="-4.2">6</tspan><tspan dx="0.4" dy="4.2"> cells</tspan></text>
</svg></body></html>
